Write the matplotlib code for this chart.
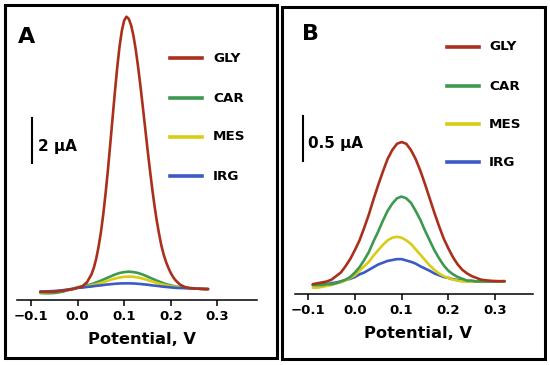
import matplotlib
matplotlib.use("Agg")
import matplotlib.pyplot as plt
from matplotlib.patches import Rectangle
from matplotlib.lines import Line2D

plt.rcParams['font.family'] = ['DejaVu Sans']
plt.rcParams['font.weight'] = 'bold'

names = ['GLY', 'CAR', 'MES', 'IRG']
colors = ['#aa301c', '#3d9950', '#d8cc14', '#3a5bc4']

# Panel A (current in uA, potential in V)
x_a_gly = [-0.08, -0.07, -0.06, -0.05, -0.04, -0.03, -0.02, -0.01, 0.0, 0.01, 0.02, 0.03,
           0.035, 0.04, 0.045, 0.05, 0.055, 0.06, 0.065, 0.07, 0.075, 0.08, 0.085, 0.09,
           0.095, 0.10, 0.105, 0.11, 0.115, 0.12, 0.125, 0.13, 0.135, 0.14, 0.145, 0.15,
           0.155, 0.16, 0.165, 0.17, 0.175, 0.18, 0.185, 0.19, 0.195, 0.20, 0.205,
           0.21, 0.22, 0.23, 0.24, 0.25, 0.26, 0.27, 0.28]
gly_a = [0.36, 0.36, 0.36, 0.37, 0.39, 0.42, 0.45, 0.48, 0.54, 0.61, 0.78, 1.15,
         1.44, 1.84, 2.36, 3.00, 3.79, 4.72, 5.76, 6.90, 8.07, 9.23, 10.32, 11.26,
         11.97, 12.43, 12.59, 12.49, 12.20, 11.73, 11.10, 10.34, 9.49, 8.58, 7.65, 6.71,
         5.82, 4.97, 4.20, 3.51, 2.92, 2.40, 2.00, 1.68, 1.42, 1.20, 1.02,
         0.88, 0.68, 0.58, 0.53, 0.51, 0.50, 0.49, 0.48]

x_a = [-0.08, -0.07, -0.06, -0.05, -0.04, -0.03, -0.02, -0.01, 0.0, 0.01, 0.02, 0.03,
       0.04, 0.05, 0.06, 0.07, 0.08, 0.09, 0.10, 0.11, 0.12, 0.13, 0.14, 0.15, 0.16,
       0.17, 0.18, 0.19, 0.20, 0.21, 0.22, 0.23, 0.24, 0.25, 0.26, 0.27, 0.28]
car_a = [0.31, 0.30, 0.30, 0.31, 0.34, 0.38, 0.44, 0.50, 0.57, 0.60, 0.65, 0.70, 0.78,
         0.86, 0.95, 1.04, 1.13, 1.20, 1.24, 1.26, 1.24, 1.20, 1.13, 1.04, 0.95, 0.86,
         0.78, 0.70, 0.65, 0.60, 0.57, 0.55, 0.53, 0.52, 0.50, 0.49, 0.49]
mes_a = [0.34, 0.34, 0.35, 0.36, 0.39, 0.42, 0.45, 0.50, 0.56, 0.58, 0.61, 0.65, 0.70,
         0.76, 0.82, 0.89, 0.95, 1.00, 1.03, 1.04, 1.03, 1.00, 0.95, 0.89, 0.82, 0.76,
         0.70, 0.65, 0.61, 0.58, 0.56, 0.53, 0.53, 0.52, 0.50, 0.49, 0.49]
irg_a = [0.38, 0.38, 0.39, 0.40, 0.42, 0.44, 0.47, 0.50, 0.54, 0.55, 0.58, 0.60, 0.63,
         0.65, 0.68, 0.70, 0.72, 0.735, 0.74, 0.74, 0.735, 0.72, 0.70, 0.68, 0.65, 0.63,
         0.60, 0.58, 0.56, 0.54, 0.53, 0.53, 0.52, 0.51, 0.50, 0.49, 0.49]

# Panel B
x_b = [-0.09, -0.08, -0.07, -0.06, -0.05, -0.04, -0.03, -0.02, -0.01, 0.0, 0.01, 0.02,
       0.03, 0.04, 0.05, 0.06, 0.07, 0.08, 0.09, 0.10, 0.11, 0.12, 0.13, 0.14, 0.15,
       0.16, 0.17, 0.18, 0.19, 0.20, 0.21, 0.22, 0.23, 0.24, 0.25, 0.26, 0.27, 0.28,
       0.29, 0.30, 0.31, 0.32]
gly_b = [0.11, 0.12, 0.13, 0.14, 0.16, 0.20, 0.24, 0.31, 0.39, 0.49, 0.60, 0.74, 0.89,
         1.06, 1.22, 1.37, 1.51, 1.61, 1.68, 1.70, 1.68, 1.61, 1.51, 1.38, 1.23, 1.07,
         0.91, 0.76, 0.62, 0.51, 0.41, 0.33, 0.27, 0.23, 0.20, 0.18, 0.16, 0.153, 0.148,
         0.145, 0.143, 0.145]
car_b = [0.10, 0.10, 0.10, 0.11, 0.11, 0.12, 0.14, 0.16, 0.19, 0.24, 0.30, 0.38, 0.47,
         0.59, 0.70, 0.82, 0.93, 1.01, 1.07, 1.09, 1.07, 1.02, 0.93, 0.83, 0.71, 0.60,
         0.49, 0.40, 0.32, 0.26, 0.22, 0.19, 0.17, 0.15, 0.15, 0.14, 0.14, 0.14, 0.14,
         0.14, 0.14, 0.14]
mes_b = [0.07, 0.07, 0.08, 0.09, 0.10, 0.12, 0.13, 0.15, 0.18, 0.21, 0.26, 0.31, 0.36,
         0.43, 0.49, 0.55, 0.60, 0.63, 0.64, 0.63, 0.60, 0.56, 0.50, 0.44, 0.38, 0.32,
         0.27, 0.23, 0.20, 0.18, 0.16, 0.15, 0.14, 0.14, 0.14, 0.14, 0.14, 0.14, 0.14,
         0.14, 0.14, 0.14]
irg_b = [0.10, 0.10, 0.11, 0.11, 0.12, 0.13, 0.14, 0.155, 0.17, 0.19, 0.22, 0.24, 0.27,
         0.30, 0.33, 0.35, 0.37, 0.38, 0.39, 0.39, 0.375, 0.36, 0.34, 0.31, 0.285, 0.26,
         0.23, 0.21, 0.19, 0.18, 0.165, 0.156, 0.15, 0.145, 0.142, 0.14, 0.14, 0.14, 0.14,
         0.14, 0.14, 0.14]

ticks = [-0.1, 0.0, 0.1, 0.2, 0.3]
tick_labels = ['\u22120.1', '0.0', '0.1', '0.2', '0.3']
scale_a = 2.0
scale_b = 0.5

W, H = 550, 365
fig = plt.figure(figsize=(W / 100, H / 100), dpi=100)


def px_axes(left, right, bottom, top):
    return fig.add_axes([left / W, 1 - bottom / H, (right - left) / W, (bottom - top) / H])


def style(ax):
    for s in ['left', 'right', 'top']:
        ax.spines[s].set_visible(False)
    ax.spines['bottom'].set_linewidth(1.1)
    ax.set_yticks([])
    ax.set_xticks(ticks)
    ax.set_xticklabels(tick_labels, fontsize=9.5, fontweight='bold')
    ax.tick_params(axis='x', direction='out', length=4, width=1.1, pad=3)
    ax.patch.set_alpha(0)


LW = 1.9
kw = dict(lw=LW, solid_joinstyle='round', solid_capstyle='round')

# panel A
ax_a = px_axes(17, 257, 300, 10)
ax_a.set_xlim(-0.130, 0.385)
ax_a.set_ylim(0, 290 / 22.5)
ax_a.plot(x_a, car_a, color=colors[1], **kw)
ax_a.plot(x_a, mes_a, color=colors[2], **kw)
ax_a.plot(x_a, irg_a, color=colors[3], **kw)
ax_a.plot(x_a_gly, gly_a, color=colors[0], **kw)
ax_a.plot([-0.098, -0.098], [6.1, 6.1 + scale_a], color='black', lw=1.5)
ax_a.text(-0.086, 6.1 + scale_a * 0.35, '2 \u00b5A', fontsize=11, fontweight='bold',
          va='center', ha='left')
style(ax_a)

# panel B
ax_b = px_axes(295, 533, 294, 10)
ax_b.set_xlim(-0.128, 0.381)
ax_b.set_ylim(0, 284 / 89.4)
ax_b.plot(x_b, irg_b, color=colors[3], **kw)
ax_b.plot(x_b, mes_b, color=colors[2], **kw)
ax_b.plot(x_b, car_b, color=colors[1], **kw)
ax_b.plot(x_b, gly_b, color=colors[0], **kw)
ax_b.plot([-0.111, -0.111], [1.49, 1.49 + scale_b], color='black', lw=1.5)
ax_b.text(-0.101, 1.49 + scale_b * 0.38, '0.5 \u00b5A', fontsize=11, fontweight='bold',
          va='center', ha='left')
style(ax_b)

# overlay in pixel coordinates for frames, labels and legends
ov = fig.add_axes([0, 0, 1, 1])
ov.set_xlim(0, W)
ov.set_ylim(H, 0)
ov.axis('off')
ov.patch.set_alpha(0)
ov.add_patch(Rectangle((5, 5), 272, 353, fill=False, lw=2.2, ec='black'))
ov.add_patch(Rectangle((282, 7), 263, 352, fill=False, lw=2.2, ec='black'))
ov.text(18, 43, 'A', fontsize=16, fontweight='bold', va='baseline')
ov.text(302, 40, 'B', fontsize=16, fontweight='bold', va='baseline')
ov.text(142, 339, 'Potential, V', fontsize=11.7, fontweight='bold', ha='center', va='center')
ov.text(418, 334, 'Potential, V', fontsize=11.7, fontweight='bold', ha='center', va='center')

leg_a_y = [58, 98, 137, 176]
leg_b_y = [47, 86, 124, 162]
for name, c, ya, yb in zip(names, colors, leg_a_y, leg_b_y):
    ov.add_line(Line2D([170, 202], [ya, ya], color=c, lw=2.6))
    ov.text(213, ya, name, fontsize=9.7, fontweight='bold', va='center')
    ov.add_line(Line2D([447, 479], [yb, yb], color=c, lw=2.6))
    ov.text(489, yb, name, fontsize=9.7, fontweight='bold', va='center')

fig.savefig('out.png', dpi=100)
